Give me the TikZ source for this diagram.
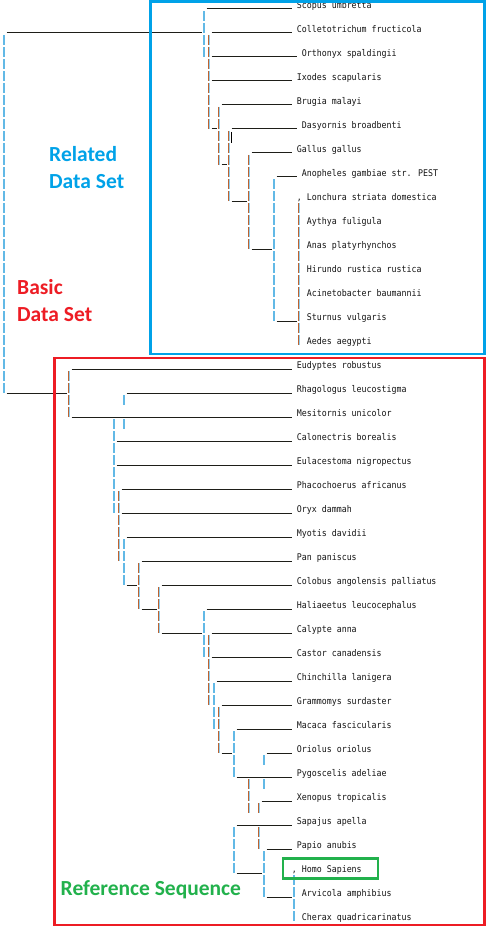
\documentclass[tikz,border=0pt]{standalone}
\usepackage{fontspec}
\newfontfamily\monof[FakeStretch=0.9]{DejaVu Sans Mono}
\newfontfamily\labf{Carlito}
\definecolor{pblue}{HTML}{00A2E8}
\definecolor{pred}{HTML}{ED1C24}
\definecolor{pgreen}{HTML}{22B14C}
\definecolor{barorange}{HTML}{C0632F}
\definecolor{barblue}{HTML}{62B9E6}
\definecolor{uline}{HTML}{1E1E18}
\tikzset{
  leaf/.style={anchor=base west,inner sep=0pt,font=\monof\fontsize{9.2pt}{11pt}\selectfont,text=black!92},
  uscore/.style={draw=uline,line width=1pt},
  strongO/.style={draw=barorange,line width=1.3pt,dash pattern=on 10pt off 2pt},
  weakB/.style={draw=barblue!70,line width=0.8pt,dash pattern=on 10pt off 2pt},
  strongB/.style={draw=barblue,line width=1.3pt,dash pattern=on 10pt off 2pt},
  weakO/.style={draw=barorange!60,line width=0.8pt,dash pattern=on 10pt off 2pt},
  setlabel/.style={anchor=base west,inner sep=0pt,font=\labf\bfseries\fontsize{21.5pt}{26pt}\selectfont},
  framebox/.style={line width=2.7pt}
}
% horizontal underscore run: row, first col, last col
\newcommand\hrun[3]{\draw[uscore] ({1.7+5*#2},{9+12*#1}) -- ({6.7+5*#3},{9+12*#1});}
% vertical bar run: col, first row, last row
\newcommand\vrunO[3]{%
  \draw[strongO] ({3.3+5*#1},{12*#2-1}) -- ({3.3+5*#1},{12*#3+9});
  \draw[weakB] ({4.4+5*#1},{12*#2-1}) -- ({4.4+5*#1},{12*#3+9});}
\newcommand\vrunB[3]{%
  \draw[weakO] ({3.0+5*#1},{12*#2-1}) -- ({3.0+5*#1},{12*#3+9});
  \draw[strongB] ({4.1+5*#1},{12*#2-1}) -- ({4.1+5*#1},{12*#3+9});}
\begin{document}
\begin{tikzpicture}[x=1pt,y=-1pt]
\useasboundingbox (0,0) rectangle (486,928);
% leaves
\foreach \t/\c/\r in {
 Scopus umbretta/59/0, Colletotrichum fructicola/59/2, Orthonyx spaldingii/60/4,
 Ixodes scapularis/59/6, Brugia malayi/59/8, Dasyornis broadbenti/60/10,
 Gallus gallus/59/12, Anopheles gambiae str. PEST/60/14, Lonchura striata domestica/61/16,
 Aythya fuligula/61/18, Anas platyrhynchos/61/20, Hirundo rustica rustica/61/22,
 Acinetobacter baumannii/61/24, Sturnus vulgaris/61/26, Aedes aegypti/61/28,
 Eudyptes robustus/59/30, Rhagologus leucostigma/59/32, Mesitornis unicolor/59/34,
 Calonectris borealis/59/36, Eulacestoma nigropectus/59/38, Phacochoerus africanus/59/40,
 Oryx dammah/59/42, Myotis davidii/59/44, Pan paniscus/59/46,
 Colobus angolensis palliatus/59/48, Haliaeetus leucocephalus/59/50, Calypte anna/59/52,
 Castor canadensis/59/54, Chinchilla lanigera/59/56, Grammomys surdaster/59/58,
 Macaca fascicularis/59/60, Oriolus oriolus/59/62, Pygoscelis adeliae/59/64,
 Xenopus tropicalis/59/66, Sapajus apella/59/68, Papio anubis/59/70,
 Homo Sapiens/60/72, Arvicola amphibius/60/74, Cherax quadricarinatus/60/76}
 {\node[leaf] (L\r) at ({1.7+5*\c},{12*\r+8.3}) {\t};}
\node[leaf] (c16) at ({1.7+5*59},{12*16+8.3}) {,};
\node[leaf] (c72) at ({1.7+5*58},{12*72+8.3}) {,};
% underscores
\foreach \r/\a/\b in {0/41/57, 2/1/39, 2/42/57, 4/42/58, 6/42/57, 8/44/57, 10/42/42,
 10/46/58, 12/50/57, 13/44/44, 14/55/58, 16/46/48, 20/50/53, 26/55/58, 30/14/57,
 32/1/12, 32/25/57, 34/14/57, 36/23/57, 38/23/57, 40/24/57, 42/24/57, 44/25/57,
 46/28/57, 48/25/26, 48/32/57, 50/28/30, 50/41/57, 52/32/39, 52/42/57, 54/42/57,
 56/43/57, 58/44/57, 60/47/57, 62/44/45, 62/53/57, 64/47/57, 66/52/57, 68/47/57,
 70/53/57, 72/47/51, 74/53/57}
 {\hrun{\r}{\a}{\b}}
% vertical bars
\foreach \c/\a/\b in {0/3/32, 40/1/4, 54/15/26, 24/33/33, 24/35/35, 22/35/42, 24/45/48,
 40/51/54, 42/57/60, 46/61/64, 52/63/63, 52/65/65, 46/69/72, 52/71/74, 58/73/76}
 {\vrunB{\c}{\a}{\b}}
\foreach \c/\a/\b in {41/3/10, 43/9/13, 45/11/16, 49/13/20, 59/17/28, 13/31/34, 23/41/46,
 27/47/50, 31/49/52, 41/53/58, 43/59/62, 49/65/67, 51/67/67, 51/69/70}
 {\vrunO{\c}{\a}{\b}}
% text cursor
\draw[black,line width=1pt] (231.6,132) -- (231.6,143);
% set labels
\node[setlabel,text=pblue] (rel1) at (49,161.7) {Related};
\node[setlabel,text=pblue] (rel2) at (49,189) {Data Set};
\node[setlabel,text=pred] (bas1) at (17,294.3) {Basic};
\node[setlabel,text=pred] (bas2) at (17,321) {Data Set};
\node[setlabel,text=pgreen] (refs) at (60.5,895) {Reference Sequence};
% frames
\draw[framebox,pblue] (150.3,1.2) rectangle (484.3,354);
\draw[framebox,pred] (54.7,358) rectangle (484.7,925);
\draw[line width=2.5pt,pgreen] (282.8,858.7) rectangle (377.8,878.7);
\end{tikzpicture}
\end{document}
